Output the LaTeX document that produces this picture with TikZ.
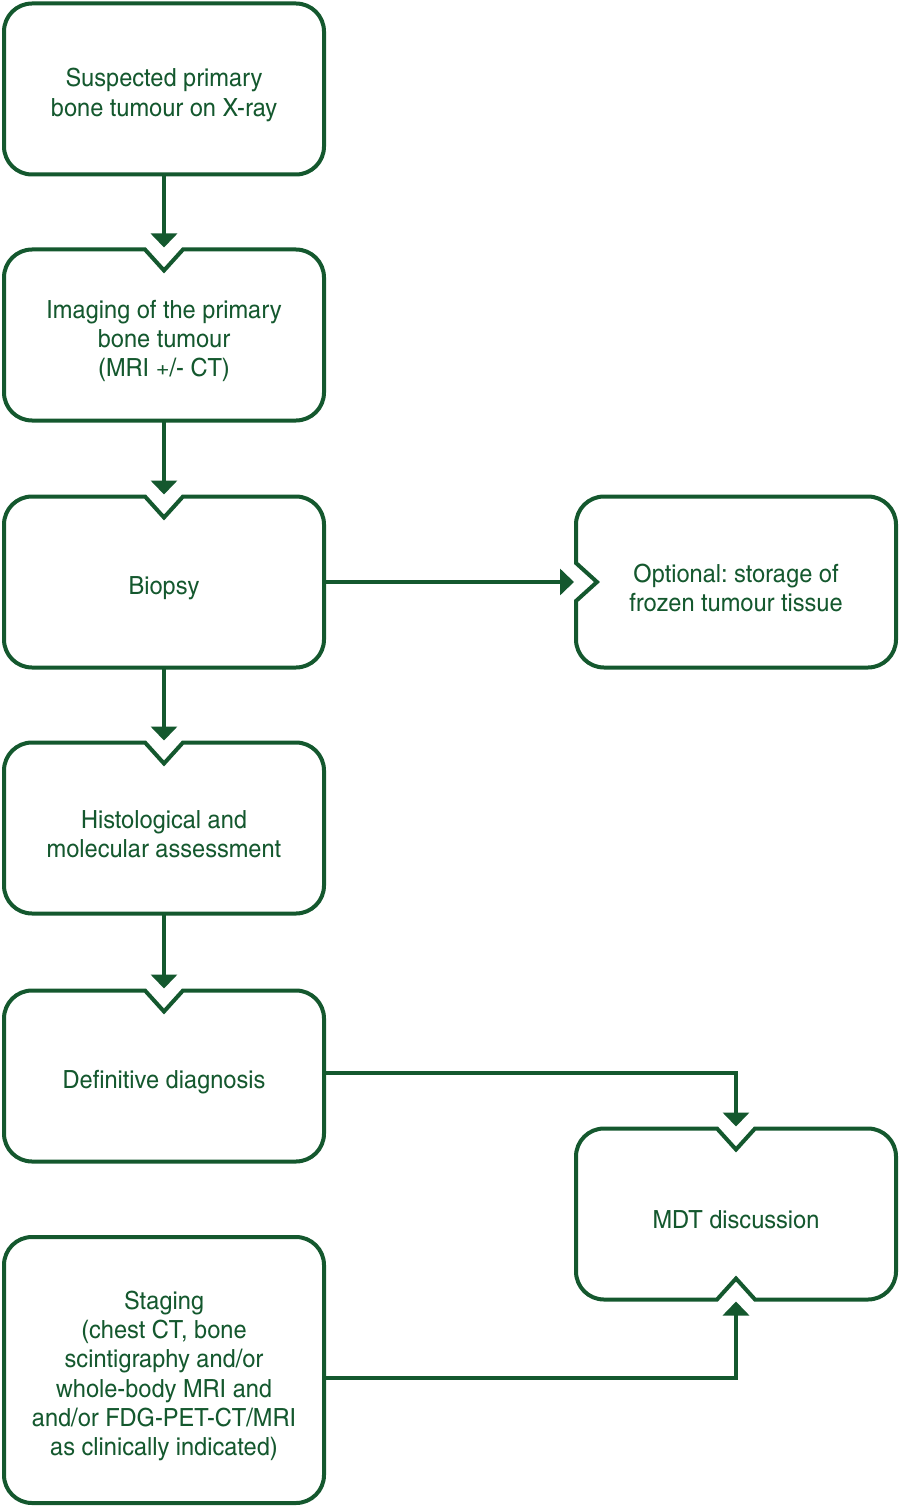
\documentclass[tikz,border=0pt]{standalone}
\usepackage{fontspec}
\setmainfont{texgyreheroscn-regular.otf}[FakeStretch=1.15]
\usetikzlibrary{arrows.meta}
\usetikzlibrary{calc}
\tikzset{>=latex}
\definecolor{mygreen}{RGB}{20,88,46}
\tikzstyle{flowbox}=[minimum width=320pt,minimum height=171pt,inner sep=0pt,outer sep=0pt]
\tikzstyle{boxtext}=[align=center,text=mygreen,font=\fontsize{25}{29.3}\selectfont\frenchspacing]
\tikzstyle{boxline}=[draw=mygreen,line width=4pt,miter limit=10]
\tikzstyle{flowarrow}=[draw=mygreen,line width=4pt,-{Triangle[width=26pt,length=14pt]},shorten >=2pt]

\begin{document}
\begin{tikzpicture}[x=1pt,y=-1pt]
  \def\L{164}   % left column
  \def\R{736}   % right column
  \def\r{28pt}  % corner radius
  \def\w{19pt}  % half width of a notch
  \def\d{21pt}  % depth of a notch
  \def\s{6}     % text sits a little below the centre
  \useasboundingbox (0,0) rectangle (900,1506);

  % left column
  \node[flowbox,boxline,rounded corners=\r] (xray) at (\L,89) {};
  \node[flowbox] (imaging)   at (\L,335)  {};
  \node[flowbox] (biopsy)    at (\L,582)  {};
  \node[flowbox] (histo)     at (\L,828)  {};
  \node[flowbox] (diagnosis) at (\L,1076) {};
  \node[flowbox,boxline,rounded corners=\r,minimum height=266pt] (staging) at (\L,1370) {};

  % right column
  \node[flowbox] (frozen) at (\R,582)  {};
  \node[flowbox] (mdt)    at (\R,1214) {};

  % texts
  \node[boxtext] (xray-t)      at (\L,89+\s)   {Suspected primary\\bone tumour on X-ray};
  \node[boxtext] (imaging-t)   at (\L,335+\s)  {Imaging of the primary\\bone tumour\\(MRI +/- CT)};
  \node[boxtext] (biopsy-t)    at (\L,582+\s)  {Biopsy};
  \node[boxtext] (histo-t)     at (\L,828+\s)  {Histological and\\molecular assessment};
  \node[boxtext] (diagnosis-t) at (\L,1076+\s) {Definitive diagnosis};
  \node[boxtext] (staging-t)   at (\L,1370+\s)
    {Staging\\(chest CT, bone\\scintigraphy and/or\\whole-body MRI and\\and/or FDG-PET-CT/MRI\\as clinically indicated)};
  \node[boxtext] (frozen-t)    at (\R,582+\s)  {Optional: storage of\\frozen tumour tissue};
  \node[boxtext] (mdt-t)       at (\R,1214+\s) {MDT discussion};

  % outlines with a notch on top
  \foreach \b in {imaging,biopsy,histo,diagnosis} {
    \draw[boxline] ([yshift=-\d]\b.north) -- ([xshift=\w]\b.north) [rounded corners=\r]
      -- (\b.north east) -- (\b.south east) -- (\b.south west) -- (\b.north west)
      [sharp corners] -- ([xshift=-\w]\b.north) -- cycle;
  }
  % notch on top and bottom
  \draw[boxline] ([yshift=-\d]mdt.north) -- ([xshift=\w]mdt.north) [rounded corners=\r]
    -- (mdt.north east) -- (mdt.south east) [sharp corners]
    -- ([xshift=\w]mdt.south) -- ([yshift=\d]mdt.south) -- ([xshift=-\w]mdt.south) [rounded corners=\r]
    -- (mdt.south west) -- (mdt.north west) [sharp corners] -- ([xshift=-\w]mdt.north) -- cycle;
  % notch on the left
  \draw[boxline] ([xshift=\d]frozen.west) -- ([yshift=\w]frozen.west) [rounded corners=\r]
    -- (frozen.north west) -- (frozen.north east) -- (frozen.south east) -- (frozen.south west)
    [sharp corners] -- ([yshift=-\w]frozen.west) -- cycle;

  % connectors
  \draw[flowarrow] (xray) -- (imaging.north);
  \draw[flowarrow] (imaging) -- (biopsy.north);
  \draw[flowarrow] (biopsy) -- (histo.north);
  \draw[flowarrow] (histo) -- (diagnosis.north);
  \draw[flowarrow] (biopsy) -- (frozen.west);
  \draw[flowarrow] ([yshift=3pt]diagnosis.east) -| (mdt.north);
  \draw[flowarrow] ([yshift=-8pt]staging.east) -| (mdt.south);
\end{tikzpicture}
\end{document}
